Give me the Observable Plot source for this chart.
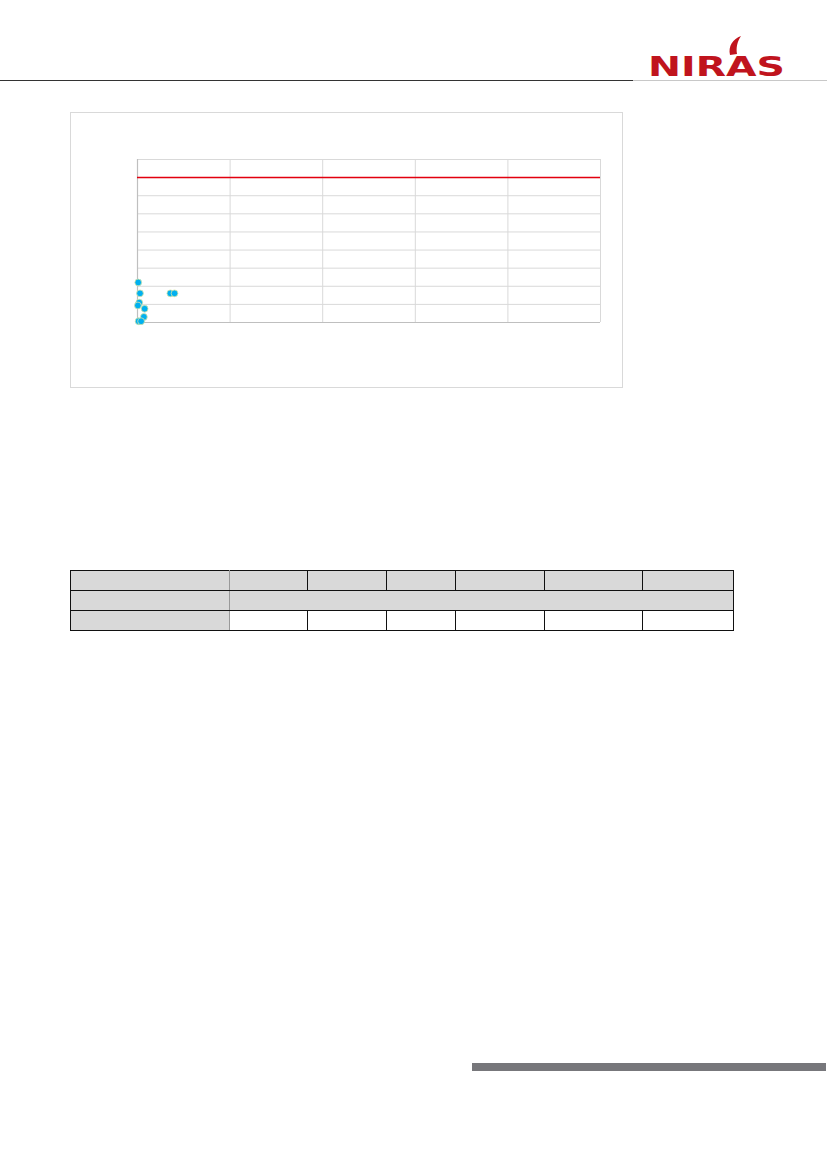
<!DOCTYPE html>
<html>
<head>
<meta charset="utf-8">
<script src="https://cdn.jsdelivr.net/npm/d3@7"></script>
<script src="https://cdn.jsdelivr.net/npm/@observablehq/plot@0.6"></script>
<style>
  html, body { margin: 0; padding: 0; background: #fff; }
  body { width: 827px; height: 1169px; position: relative; overflow: hidden; font-family: "Liberation Sans", Arial, sans-serif; }
  #hdrDark { position: absolute; left: 0; top: 80px; width: 633px; height: 1px; background: #333; }
  #hdrLight { position: absolute; left: 633px; top: 80px; width: 194px; height: 1px; background: #c8c8c8; }
  #logo { position: absolute; left: 640px; top: 30px; }
  #chartBox { position: absolute; left: 70px; top: 112px; width: 553px; height: 276px; box-sizing: border-box; border: 1px solid #d9d9d9; }
  #chart { position: absolute; left: 70px; top: 112px; }
  #tbl { position: absolute; left: 70px; top: 570px; border-collapse: collapse; table-layout: fixed; }
  #tbl tr { height: 20px; }
  #tbl td { padding: 0; border: 1.5px solid #111; }
  #tbl td.g { background: #d9d9d9; }
  #tbl td.first { border-right: 1.5px solid #999; }
  #bar { position: absolute; left: 472px; top: 1063px; width: 354px; height: 8px; background: #77777b; }
</style>
</head>
<body>
<div id="hdrDark"></div>
<div id="hdrLight"></div>
<svg id="logo" width="160" height="52" viewBox="0 0 160 52">
  <path d="M90 25 C 88 16, 93 9, 101 6 C 97 12, 96 18, 97 24 Z" fill="#c0141d"/>
  <text x="8" y="46" font-family="DejaVu Sans, Liberation Sans, Arial, sans-serif" font-weight="bold" font-size="26" fill="#c0141d" textLength="137" lengthAdjust="spacingAndGlyphs">NIRAS</text>
</svg>
<div id="chartBox"></div>
<div id="chart"></div>
<table id="tbl">
  <colgroup>
    <col style="width:159px"><col style="width:78px"><col style="width:79px"><col style="width:69px"><col style="width:89px"><col style="width:98px"><col style="width:91px">
  </colgroup>
  <tr><td class="g first"></td><td class="g"></td><td class="g"></td><td class="g"></td><td class="g"></td><td class="g"></td><td class="g"></td></tr>
  <tr><td class="g first"></td><td class="g" colspan="6"></td></tr>
  <tr><td class="g first"></td><td></td><td></td><td></td><td></td><td></td><td></td></tr>
</table>
<div id="bar"></div>
<script>
// Data
const xValues = [0.8, 2.7, 35.5, 40, 1.9, 0.4, 7.7, 6.9, 1.2, 3.9];
const yValues = [22.1, 16.1, 16.1, 16.1, 11.0, 9.4, 7.6, 3.1, 0.7, 0.7];
const xTicks = [0, 100, 200, 300, 400, 500];
const yTicks = [0, 10, 20, 30, 40, 50, 60, 70, 80, 90];
const limitValue = [80];

const points = xValues.map((x, i) => ({x, y: yValues[i]}));

const plot = Plot.plot({
  width: 553,
  height: 276,
  marginLeft: 67,
  marginRight: 23,
  marginTop: 47,
  marginBottom: 66,
  x: {domain: [0, 500], axis: null},
  y: {domain: [0, 90], axis: null},
  style: {background: "transparent"},
  marks: [
    Plot.ruleY(yTicks, {stroke: "#d9d9d9", strokeWidth: 1}),
    Plot.ruleX(xTicks, {stroke: "#d9d9d9", strokeWidth: 1}),
    Plot.ruleX([0], {stroke: "#bfbfbf", strokeWidth: 1.2}),
    Plot.ruleY([0], {stroke: "#bfbfbf", strokeWidth: 1.2}),
    Plot.ruleY(limitValue, {stroke: "#e3000f", strokeWidth: 1.5}),
    Plot.dot(points, {x: "x", y: "y", r: 3.4, fill: "#00b0f0", stroke: "#d8e6a8", strokeWidth: 0.8})
  ]
});
document.getElementById("chart").appendChild(plot);
</script>
</body>
</html>
